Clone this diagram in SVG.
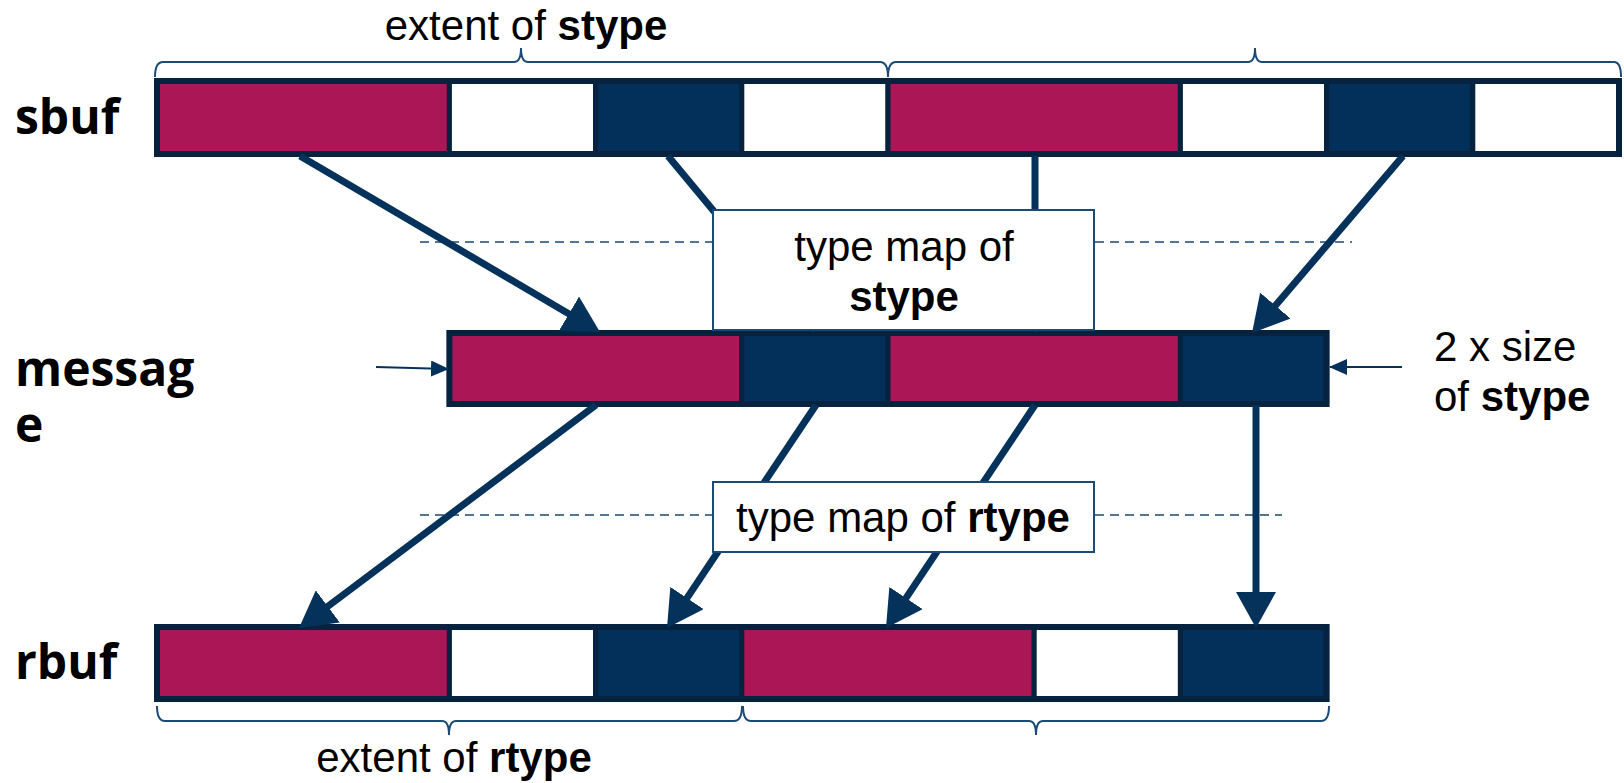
<svg xmlns="http://www.w3.org/2000/svg" width="1624" height="783" viewBox="0 0 1624 783">
<style>
.t{font-family:"Liberation Sans",Arial,sans-serif;font-size:42px;fill:#000}
.b{font-weight:bold}
.lbl{font-family:"Open Sans","Noto Sans",sans-serif;font-weight:bold;font-size:48px;fill:#000}
.c{fill:#AB1656;stroke:#06223F;stroke-width:5}
.n{fill:#03305A;stroke:#06223F;stroke-width:5}
.w{fill:#FFFFFF;stroke:#06223F;stroke-width:5}
.outer{fill:none;stroke:#06223F;stroke-width:6}
.arr{stroke:#05325B;stroke-width:7;fill:none;marker-end:url(#big)}
.thin{stroke:#05325B;stroke-width:2;fill:none;marker-end:url(#small)}
.dash{stroke:#1A4A75;stroke-width:1.6;stroke-dasharray:9 6;fill:none}
.brace{stroke:#1A4A75;stroke-width:2;fill:none}
.box{fill:#FFFFFF;stroke:#1A4A75;stroke-width:2}
</style>
<defs>
<marker id="big" viewBox="0 0 36 40" refX="16" refY="20" markerWidth="36" markerHeight="40" markerUnits="userSpaceOnUse" orient="auto">
<path d="M0,0 L36,20 L0,40 z" fill="#05325B"/>
</marker>
<marker id="small" viewBox="0 0 18 16" refX="17" refY="8" markerWidth="18" markerHeight="16" markerUnits="userSpaceOnUse" orient="auto">
<path d="M0,0 L18,8 L0,16 z" fill="#05325B"/>
</marker>
</defs>

<g id="labels">
<text class="lbl" x="15" y="134">sbuf</text>
<text class="lbl" x="15" y="386">messag</text>
<text class="lbl" x="15" y="442">e</text>
<text class="lbl" x="15" y="679">rbuf</text>
</g>

<g id="guides">
<line class="dash" x1="420" y1="242" x2="1352" y2="242"/>
<line class="dash" x1="420" y1="515" x2="1282" y2="515"/>
</g>

<g id="braces">
<path class="brace" d="M155,77 Q155,62 163,62 L514,62 Q521,62 521,48 Q521,62 528,62 L880,62 Q888,62 888,77"/>
<path class="brace" d="M888,77 Q888,62 896,62 L1248,62 Q1255,62 1255,48 Q1255,62 1262,62 L1614,62 Q1621,62 1621,77"/>
<path class="brace" d="M157,706 Q157,721 165,721 L442,721 Q449,721 449,735 Q449,721 456,721 L734,721 Q742,721 742,706"/>
<path class="brace" d="M743,706 Q743,721 751,721 L1029,721 Q1036,721 1036,735 Q1036,721 1043,721 L1321,721 Q1329,721 1329,706"/>
<text class="t" x="526" y="40" text-anchor="middle">extent of <tspan class="b">stype</tspan></text>
<text class="t" x="454" y="772" text-anchor="middle">extent of <tspan class="b">rtype</tspan></text>
</g>

<g id="sbuf">
<rect class="c" x="157" y="81" width="292.4" height="73"/>
<rect class="w" x="449.4" y="81" width="146.2" height="73"/>
<rect class="n" x="595.6" y="81" width="146.2" height="73"/>
<rect class="w" x="741.8" y="81" width="146.2" height="73"/>
<rect class="c" x="888" y="81" width="292.4" height="73"/>
<rect class="w" x="1180.4" y="81" width="146.2" height="73"/>
<rect class="n" x="1326.6" y="81" width="146.2" height="73"/>
<rect class="w" x="1472.8" y="81" width="146.2" height="73"/>
<rect class="outer" x="157" y="81" width="1462" height="73"/>
</g>

<g id="message">
<rect class="c" x="449.4" y="333" width="292.4" height="71"/>
<rect class="n" x="741.8" y="333" width="146.2" height="71"/>
<rect class="c" x="888" y="333" width="292.4" height="71"/>
<rect class="n" x="1180.4" y="333" width="146.2" height="71"/>
<rect class="outer" x="449.4" y="333" width="877.2" height="71"/>
</g>

<g id="rbuf">
<rect class="c" x="157" y="627" width="292.4" height="72"/>
<rect class="w" x="449.4" y="627" width="146.2" height="72"/>
<rect class="n" x="595.6" y="627" width="146.2" height="72"/>
<rect class="c" x="741.8" y="627" width="292.4" height="72"/>
<rect class="w" x="1034.2" y="627" width="146.2" height="72"/>
<rect class="n" x="1180.4" y="627" width="146.2" height="72"/>
<rect class="outer" x="157" y="627" width="1169.6" height="72"/>
</g>

<g id="connectors">
<line class="arr" x1="300" y1="156" x2="582.7" y2="321.9"/>
<line class="arr" x1="668" y1="156" x2="802.2" y2="317.6"/>
<line class="arr" x1="1035" y1="156" x2="1035" y2="313"/>
<line class="arr" x1="1403" y1="156" x2="1265" y2="317.8"/>
<line class="arr" x1="596" y1="405" x2="315" y2="616"/>
<line class="arr" x1="816" y1="405" x2="678.1" y2="611.4"/>
<line class="arr" x1="1035" y1="405" x2="897.1" y2="611.4"/>
<line class="arr" x1="1256" y1="405" x2="1256" y2="608"/>
<line class="thin" x1="376" y1="367" x2="448" y2="369"/>
<line class="thin" x1="1402" y1="367" x2="1330" y2="367"/>
</g>

<g id="stype-map">
<rect class="box" x="713" y="210" width="381" height="120"/>
<text class="t" x="904" y="261" text-anchor="middle">type map of</text>
<text class="t b" x="904" y="311" text-anchor="middle">stype</text>
</g>

<g id="rtype-map">
<rect class="box" x="713" y="482" width="381" height="70"/>
<text class="t" x="903" y="532" text-anchor="middle">type map of <tspan class="b">rtype</tspan></text>
</g>

<g id="size-note">
<text class="t" x="1434" y="361">2 x size</text>
<text class="t" x="1434" y="411">of <tspan class="b">stype</tspan></text>
</g>
</svg>
